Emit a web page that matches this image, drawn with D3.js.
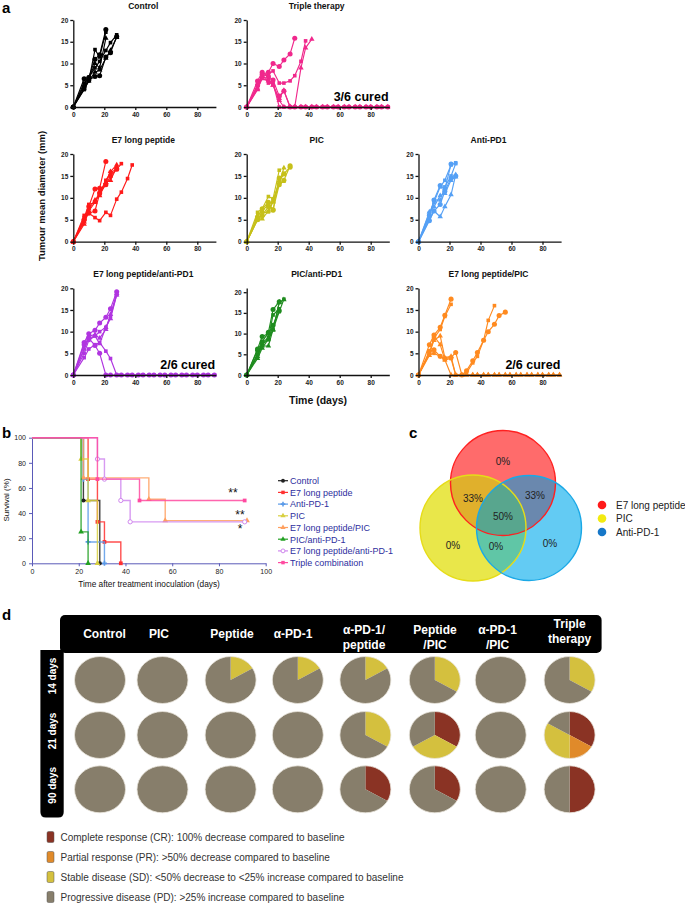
<!DOCTYPE html>
<html><head><meta charset="utf-8">
<script src="https://cdn.jsdelivr.net/npm/d3@7"></script>
<style>
body{margin:0;background:#fff;}
svg{display:block;font-family:"Liberation Sans",Arial,Helvetica,sans-serif;}
</style>
</head><body>
<svg id="c" width="685" height="903"></svg>
<script>
// ---------------- DATA: panel a (tumour growth, [day, diameter mm]) ----------------
const tail28 = [[28,0],[31,0],[35,0],[38,0],[42,0],[45,0],[49,0],[52,0],[56,0],[59,0],[63,0],[66,0],[70,0],[73,0],[77,0],[80,0],[84,0],[87,0],[91,0]];
const controlMice = [
  [[0,0],[7,6.5],[10,6.8],[14,11],[17,12],[21,17.8]],
  [[0,0],[7,4],[10,6],[14,13.2],[17,11.5],[21,17.2]],
  [[0,0],[7,5],[10,6.5],[14,10],[17,9],[21,15.8]],
  [[0,0],[7,4.5],[10,6.2],[14,7],[17,7.2],[21,11.5],[24,12.5],[28,16.2]],
  [[0,0],[7,5.5],[10,6.8],[14,9],[17,10.5],[21,13],[24,14.8],[28,16.6]],
  [[0,0],[7,4.2],[10,6],[14,8],[17,8.5],[21,11.2],[24,13],[28,16]]
];
const tripleMice = [
  [[0,0],[7,5],[10,7.5],[14,8],[17,10],[21,9.3],[24,10.8],[28,12.2],[31,15.8]],
  [[0,0],[7,4.5],[10,7],[14,7.5],[17,8.3],[21,5.5],[24,5.5],[28,6],[31,7.2],[35,10.5],[38,15.2]],
  [[0,0],[7,4],[10,7],[14,6.5],[17,5],[21,2],[24,3.8],[28,0],[31,0],[35,9],[38,13.6],[42,15.6]],
  [[0,0],[7,6],[10,8],[14,7],[17,6.2],[21,2.5],[24,3.7]].concat(tail28),
  [[0,0],[7,5],[10,7.5],[14,5.5],[17,5.5],[21,0],[24,0]].concat(tail28),
  [[0,0],[7,4.2],[10,6.5],[14,6],[17,5],[21,1.5],[24,0]].concat(tail28)
];
const peptideMice = [
  [[0,0],[7,5],[10,8],[14,12],[17,12.2],[21,18.3]],
  [[0,0],[7,5.5],[10,8.5],[14,9],[17,11],[21,14],[24,15.8],[28,16.5],[31,17.8]],
  [[0,0],[7,4.5],[10,7.5],[14,9.5],[17,10.5],[21,13.5],[24,14],[28,17]],
  [[0,0],[7,5],[10,6.5],[14,7],[17,11],[21,13],[24,15],[28,16.5]],
  [[0,0],[7,6],[10,6.5],[14,5.5],[17,4.8],[21,6.7],[24,6],[28,9.7],[31,11.3],[35,14.4],[38,17.5]],
  [[0,0],[7,4],[10,7],[14,9],[17,11.5],[21,13.5],[24,16],[28,17.5]]
];
const picMice = [
  [[0,0],[7,5],[10,6],[14,8],[17,7.3],[21,13],[24,14],[28,17.3]],
  [[0,0],[7,6.7],[10,7.5],[14,10.3],[17,9.8],[21,16.3]],
  [[0,0],[7,5.2],[10,5.2],[14,7],[17,9],[21,13.5],[24,16.8]],
  [[0,0],[7,5.5],[10,7.5],[14,9],[17,7.2],[21,14.5],[24,15.5],[28,17]],
  [[0,0],[7,5],[10,6.5],[14,6.8],[17,9.5],[21,13.2],[24,13.8]],
  [[0,0],[7,6],[10,7],[14,8.5],[17,9.2],[21,14],[24,15.3]]
];
const antiPD1Mice = [
  [[0,0],[7,6],[10,9.5],[14,12.8],[17,12],[21,17.7]],
  [[0,0],[7,6.5],[10,9],[14,12.5],[17,14],[21,17.5],[24,18]],
  [[0,0],[7,5],[10,7],[14,5.7],[17,8],[21,10.7],[24,15.3]],
  [[0,0],[7,4.8],[10,7],[14,8.5],[17,11.5],[21,14.5],[24,15]],
  [[0,0],[7,5.5],[10,9.5],[14,9.5],[17,12.5],[21,15],[24,17.8]],
  [[0,0],[7,6.8],[10,8],[14,10.5],[17,11],[21,14],[24,14.8]]
];
const peptideAntiMice = [
  [[0,0],[7,7.5],[10,9.5],[14,10.3],[17,12],[21,13.3],[24,15.3],[28,19.2]],
  [[0,0],[7,5],[10,8],[14,9],[17,10],[21,11],[24,13.5],[28,18.5]],
  [[0,0],[7,6],[10,9],[14,9.3],[17,8.5],[21,10.5],[24,14],[28,18.8]],
  [[0,0],[7,7],[10,8.5],[14,6.8],[17,5],[21,0],[24,0]].concat(tail28),
  [[0,0],[7,4],[10,6],[14,7],[17,7.5],[21,5.5],[24,3.8]].concat(tail28),
  [[0,0],[7,6],[10,8.5],[14,9],[17,7.2],[21,11],[24,13],[28,18.5]]
];
const picAntiMice = [
  [[0,0],[7,6],[10,8],[14,10.3],[17,15.8],[21,17.7]],
  [[0,0],[7,5],[10,7.5],[14,8.5],[17,11],[21,15.3],[24,18.3]],
  [[0,0],[7,4.5],[10,7],[14,7],[17,11],[21,17.5],[24,18.2]],
  [[0,0],[7,6.3],[10,9.3],[14,10],[17,12],[21,15.5]],
  [[0,0],[7,5],[10,7.8],[14,9],[17,14.5],[21,16]],
  [[0,0],[7,4],[10,6.5],[14,8.7],[17,10.8],[21,17.6]]
];
const peptidePicMice = [
  [[0,0],[7,7],[10,9.2],[14,11],[17,13.8],[21,17.5]],
  [[0,0],[7,5],[10,8.5],[14,10.5],[17,13.5],[21,16.3]],
  [[0,0],[7,5],[10,8],[14,9],[17,4],[21,4.3],[24,0]].concat(tail28),
  [[0,0],[7,5.5],[10,5.8],[14,4.3],[17,3.8],[21,4],[24,5.2],[28,0],[31,1],[35,3.3],[38,5.2],[42,8],[45,10],[49,11.7],[52,13.7],[56,14.5]],
  [[0,0],[7,4.8],[10,5],[14,4.3],[17,3.5],[21,3.8],[24,0],[28,0],[31,0.5],[35,2.8],[38,4.3],[42,8],[45,12.6],[49,16]],
  [[0,0],[7,4.5],[10,9],[14,7],[17,3.5],[21,0],[24,0]].concat(tail28)
];
const growthTitles = ["Control","Triple therapy","E7 long peptide","PIC","Anti-PD1","E7 long peptide/anti-PD1","PIC/anti-PD1","E7 long peptide/PIC"];
const growthColors = ["#000000","#f0288c","#ff1a1a","#c6c01a","#55a0f5","#b035e0","#1f8c1f","#ff8a1f"];
const growthData = [controlMice,tripleMice,peptideMice,picMice,antiPD1Mice,peptideAntiMice,picAntiMice,peptidePicMice];
const growthCured = ["", "3/6 cured", "", "", "", "2/6 cured", "", "2/6 cured"];
const growthYMax = [20,20,20,20,20,20,21,20];
const growthYTicks = [0,5,10,15,20];
const growthXTicks = [0,20,40,60,80];

// ---------------- DATA: panel b (survival, [day, %]) ----------------
const survNames = ["Control","E7 long peptide","Anti-PD-1","PIC","E7 long peptide/PIC","PIC/anti-PD-1","E7 long peptide/anti-PD-1","Triple combination"];
const survColors = ["#222222","#ff3030","#5a9ae8","#d8d040","#ffa060","#22a022","#d088ee","#ff4aa0"];
const survControl = [[0,100],[22,50],[29,0]];
const survPeptide = [[0,100],[24,67],[28,33],[31,17],[38,0]];
const survAnti = [[0,100],[22,67],[24,17],[31,0]];
const survPic = [[0,100],[21,83],[24,50],[28,0]];
const survPeptidePic = [[0,100],[22,68],[50,51],[57,34],[92,34]];
const survPicAnti = [[0,100],[21,25],[24,0]];
const survPeptideAnti = [[0,100],[28,83],[31,67],[38,50],[42,33],[91,33]];
const survTriple = [[0,100],[28,67],[46,50],[91,50]];
const survData = [survControl,survPeptide,survAnti,survPic,survPeptidePic,survPicAnti,survPeptideAnti,survTriple];
const survXTicks = [0,20,40,60,80,100];
const survYTicks = [0,20,40,60,80,100];

// ---------------- DATA: panel c (Venn) ----------------
const vennNames = ["E7 long peptide","PIC","Anti-PD-1"];
const vennColors = ["#ff1a1a","#f2ea10","#1677c8"];
const vennValues = {R:"0%", RY:"33%", RB:"33%", RYB:"50%", Y:"0%", YB:"0%", B:"0%"};

// ---------------- DATA: panel d (response pies, mice out of 6) ----------------
const pieGroups = [["Control"],["PIC"],["Peptide"],["α-PD-1"],["α-PD-1/","peptide"],["Peptide","/PIC"],["α-PD-1","/PIC"],["Triple","therapy"]];
const pieDays = ["14 days","21 days","90 days"];
const cr14 = [0,0,0,0,0,0,0,0], pr14 = [0,0,0,0,0,0,0,0], sd14 = [0,0,1,1,1,2,0,2], pd14 = [6,6,5,5,5,4,6,4];
const cr21 = [0,0,0,0,0,2,0,2], pr21 = [0,0,0,0,0,0,0,1], sd21 = [0,0,0,0,2,2,0,2], pd21 = [6,6,6,6,4,2,6,1];
const cr90 = [0,0,0,0,2,2,0,3], pr90 = [0,0,0,0,0,0,0,0], sd90 = [0,0,0,0,0,0,0,0], pd90 = [6,6,6,6,4,4,6,3];
const responseLabels = ["Complete response (CR): 100% decrease compared to baseline","Partial response (PR): >50% decrease compared to baseline","Stable disease (SD): <50% decrease to <25% increase compared to baseline","Progressive disease (PD): >25% increase compared to baseline"];
const responseColors = ["#8a3324","#e08a2a","#d4c03e","#877e6b"];

// ======================================================================
const svg = d3.select("#c");
svg.append("rect").attr("width",685).attr("height",903).attr("fill","#fff");

function panelLetter(t,x,y){ svg.append("text").attr("x",x).attr("y",y).text(t).attr("font-weight","bold").attr("font-size",15).attr("fill","#000"); }

// ---------------- Panel a ----------------
panelLetter("a",2,13);
const colX0 = [73.3,246.7,418.5];
const rowY = [[107,20],[241.7,154],[375,288.3]];
const layoutA = [[0,0],[0,1],[1,0],[1,1],[1,2],[2,0],[2,1],[2,2]];
const pxPerDay = 1.55;
const symTypes = [d3.symbolCircle,d3.symbolSquare,d3.symbolTriangle,d3.symbolCircle,d3.symbolSquare,d3.symbolTriangle];
layoutA.forEach(([r,c],i)=>{
  const g = svg.append("g");
  const x0 = colX0[c];
  const y0 = rowY[r][0], y20 = rowY[r][1];
  const ymax = growthYMax[i];
  const x = d3.scaleLinear().domain([0,92]).range([x0, x0+92*pxPerDay]);
  const unit = (y0-y20)/20 * (20/ymax) * (ymax===20?1:0.955*ymax/20);
  const yS = d3.scaleLinear().domain([0,20]).range([y0, y0-20*(ymax===20?(y0-y20)/20:(y0-y20)/20*0.955)]);
  const yAxisScale = d3.scaleLinear().domain([0,ymax]).range([y0, yS(ymax)]);
  const color = growthColors[i];
  const line = d3.line().x(d=>x(d[0])).y(d=>yS(d[1]));
  growthData[i].forEach((m,mi)=>{
    g.append("path").attr("d",line(m)).attr("fill","none").attr("stroke",color).attr("stroke-width",1.15).attr("stroke-linejoin","round");
    g.selectAll(null).data(m).enter().append("path")
      .attr("d",d3.symbol().type(symTypes[mi]).size(mi%3===0?20:13))
      .attr("transform",d=>`translate(${x(d[0])},${yS(d[1])})`)
      .attr("fill",color);
  });
  const xa = g.append("g").attr("transform",`translate(0,${y0})`)
    .call(d3.axisBottom(x).tickValues(growthXTicks).tickSize(3).tickSizeOuter(0).tickPadding(2));
  const ya = g.append("g").attr("transform",`translate(${x0},0)`)
    .call(d3.axisLeft(yAxisScale).tickValues(growthYTicks).tickSize(3).tickSizeOuter(0).tickPadding(2));
  [xa,ya].forEach(a=>{
    a.selectAll("path,line").attr("stroke","#111").attr("stroke-width",1.3);
    a.selectAll("text").attr("font-size",6.5).attr("font-weight","bold").attr("fill","#222").attr("font-family","Liberation Sans,Arial,sans-serif");
  });
  g.append("text").attr("x",x0+70).attr("y",y20-11).attr("text-anchor","middle")
    .attr("font-size",8.5).attr("font-weight","bold").attr("fill","#111").text(growthTitles[i]);
  if(growthCured[i]){
    g.append("text").attr("x",x(91.5)).attr("y",y0-6).attr("text-anchor","end")
      .attr("font-size",12.5).attr("font-weight","bold").attr("fill","#000").text(growthCured[i]);
  }
});
svg.append("text").attr("transform","translate(45,196) rotate(-90)").attr("text-anchor","middle")
  .attr("font-size",9.5).attr("font-weight","bold").attr("fill","#111").text("Tumour mean diameter (mm)");
svg.append("text").attr("x",318).attr("y",404).attr("text-anchor","middle")
  .attr("font-size",10.5).attr("font-weight","bold").attr("fill","#111").text("Time (days)");

// ---------------- Panel b ----------------
panelLetter("b",2,438);
const xb = d3.scaleLinear().domain([0,100]).range([32,265.7]);
const yb = d3.scaleLinear().domain([0,100]).range([563.3,437.7]);
const gb = svg.append("g");
const bxa = gb.append("g").attr("transform","translate(0,563.3)").call(d3.axisBottom(xb).tickValues(survXTicks).tickSize(3).tickSizeOuter(0).tickPadding(3));
const bya = gb.append("g").attr("transform","translate(32,0)").call(d3.axisLeft(yb).tickValues(survYTicks).tickSize(3).tickSizeOuter(0).tickPadding(3));
[bxa,bya].forEach(a=>{
  a.selectAll("path,line").attr("stroke","#5a5ab8").attr("stroke-width",1);
  a.selectAll("text").attr("font-size",7).attr("fill","#222").attr("font-family","Liberation Sans,Arial,sans-serif");
});
const stepLine = d3.line().x(d=>xb(d[0])).y(d=>yb(d[1])).curve(d3.curveStepAfter);
const survSyms = [d3.symbolCircle,d3.symbolSquare,d3.symbolCross,d3.symbolTriangle,d3.symbolTriangle,d3.symbolTriangle,d3.symbolCircle,d3.symbolSquare];
survData.forEach((s,i)=>{
  gb.append("path").attr("d",stepLine(s)).attr("fill","none").attr("stroke",survColors[i]).attr("stroke-width",1.4).attr("stroke-opacity",0.85);
  gb.selectAll(null).data(s.slice(1)).enter().append("path")
    .attr("d",d3.symbol().type(survSyms[i]).size(14))
    .attr("transform",d=>`translate(${xb(d[0])},${yb(d[1])})`)
    .attr("fill",i===6?"#fff":survColors[i]).attr("stroke",survColors[i]).attr("stroke-width",i===6?1:0);
});
gb.append("text").attr("x",233).attr("y",497).attr("text-anchor","middle").attr("font-size",12).attr("fill","#111").text("**");
gb.append("text").attr("x",240).attr("y",519).attr("text-anchor","middle").attr("font-size",12).attr("fill","#111").text("**");
gb.append("text").attr("x",240).attr("y",533).attr("text-anchor","middle").attr("font-size",12).attr("fill","#111").text("*");
svg.append("text").attr("transform","translate(9,500) rotate(-90)").attr("text-anchor","middle")
  .attr("font-size",8).attr("fill","#111").text("Survival (%)");
svg.append("text").attr("x",149).attr("y",587).attr("text-anchor","middle")
  .attr("font-size",8.3).attr("fill","#111").text("Time after treatment inoculation (days)");
survNames.forEach((n,i)=>{
  const yy = 480.7 + i*11.7;
  gb.append("line").attr("x1",278).attr("x2",288).attr("y1",yy).attr("y2",yy).attr("stroke",survColors[i]).attr("stroke-width",1.2);
  gb.append("path").attr("d",d3.symbol().type(survSyms[i]).size(12)).attr("transform",`translate(283,${yy})`)
    .attr("fill",i===6?"#fff":survColors[i]).attr("stroke",survColors[i]).attr("stroke-width",i===6?1:0);
  gb.append("text").attr("x",290).attr("y",yy+3.3).attr("font-size",9).attr("fill","#2e2e9e").text(n);
});

// ---------------- Panel c ----------------
panelLetter("c",409,438);
const cR={x:503,y:483,r:52.5}, cY={x:473,y:528,r:53}, cB={x:529,y:528,r:52.5};
const defs = svg.append("defs");
[["clipR",cR],["clipY",cY],["clipB",cB]].forEach(([id,c])=>{
  defs.append("clipPath").attr("id",id).append("circle").attr("cx",c.x).attr("cy",c.y).attr("r",c.r);
});
const gv = svg.append("g");
function circ(parent,c,fill){ return parent.append("circle").attr("cx",c.x).attr("cy",c.y).attr("r",c.r).attr("fill",fill); }
circ(gv,cR,"#ff6b6b");
circ(gv,cY,"#e9e74a");
circ(gv,cB,"#63cbf3");
circ(gv.append("g").attr("clip-path","url(#clipR)"),cY,"#e0b02c");
circ(gv.append("g").attr("clip-path","url(#clipR)"),cB,"#6a88ae");
circ(gv.append("g").attr("clip-path","url(#clipY)"),cB,"#60c6a6");
circ(gv.append("g").attr("clip-path","url(#clipR)").append("g").attr("clip-path","url(#clipY)"),cB,"#58a68e");
circ(gv,cR,"none").attr("stroke","#ff2020").attr("stroke-width",1.4);
circ(gv,cY,"none").attr("stroke","#e6dc18").attr("stroke-width",1.4);
circ(gv,cB,"none").attr("stroke","#1aa8e6").attr("stroke-width",1.4);
const vennPos = {R:[503,465],RY:[473,502],RB:[535,499],RYB:[503,520],Y:[453,549],YB:[496,550],B:[550,547]};
Object.keys(vennValues).forEach(k=>{
  gv.append("text").attr("x",vennPos[k][0]).attr("y",vennPos[k][1]).attr("text-anchor","middle")
    .attr("font-size",10).attr("fill","#222").text(vennValues[k]);
});
vennNames.forEach((n,i)=>{
  const yy = 505 + i*13.5;
  gv.append("circle").attr("cx",602).attr("cy",yy).attr("r",4.3).attr("fill",vennColors[i]);
  gv.append("text").attr("x",616).attr("y",yy+3.5).attr("font-size",10).attr("fill","#222").text(n);
});

// ---------------- Panel d ----------------
panelLetter("d",2,620);
const gd = svg.append("g");
gd.append("rect").attr("x",60).attr("y",615).attr("width",541.6).attr("height",38).attr("rx",5).attr("fill","#000");
gd.append("path").attr("d","M40.4,650 H63.7 V812 Q63.7,817.5 58.2,817.5 H45.9 Q40.4,817.5 40.4,812 Z").attr("fill","#000");
const colCx = [100,162.5,230.6,297.8,365.4,434.8,500.7,569.6];
const labCx = [104.5,159,232,293,364,435,497.6,569.6];
pieGroups.forEach((lines,i)=>{
  const t = gd.append("text").attr("text-anchor","middle").attr("font-size",12).attr("font-weight","bold").attr("fill","#fff");
  if(lines.length===1){
    t.append("tspan").attr("x",labCx[i]).attr("y",638).text(lines[0]);
  } else {
    const top = i===7 ? 628 : 633.5;
    lines.forEach((l,j)=>t.append("tspan").attr("x",labCx[i]).attr("y",top+j*15).text(l));
  }
});
const rowCy = [680,735,789.3];
pieDays.forEach((d,j)=>{
  gd.append("text").attr("transform",`translate(55.5,${rowCy[j]-4}) rotate(-90)`).attr("text-anchor","middle")
    .attr("font-size",10).attr("font-weight","bold").attr("fill","#fff").text(d);
});
const pieRows = [[cr14,pr14,sd14,pd14],[cr21,pr21,sd21,pd21],[cr90,pr90,sd90,pd90]];
const pie = d3.pie().sort(null).value(d=>d);
const arc = d3.arc().innerRadius(0).outerRadius(1);
pieRows.forEach((cats,j)=>{
  colCx.forEach((cx,i)=>{
    const vals = cats.map(a=>a[i]);
    const pg = gd.append("g").attr("transform",`translate(${cx},${rowCy[j]}) scale(25.5,23.5)`);
    pg.selectAll(null).data(pie(vals)).enter().append("path")
      .attr("d",arc).attr("fill",(d,k)=>responseColors[k]);
    pg.append("circle").attr("r",1).attr("fill","none").attr("stroke","#e8e4dc").attr("stroke-width",0.8).attr("vector-effect","non-scaling-stroke");
  });
});
responseLabels.forEach((l,i)=>{
  const yy = 837 + i*20;
  gd.append("rect").attr("x",47).attr("y",yy-5.5).attr("width",7).attr("height",11).attr("rx",1.5)
    .attr("fill",responseColors[i]).attr("stroke","#555").attr("stroke-width",0.5);
  gd.append("text").attr("x",60.5).attr("y",yy+3.6).attr("font-size",10).attr("fill","#333").text(l);
});
</script>
</body></html>
